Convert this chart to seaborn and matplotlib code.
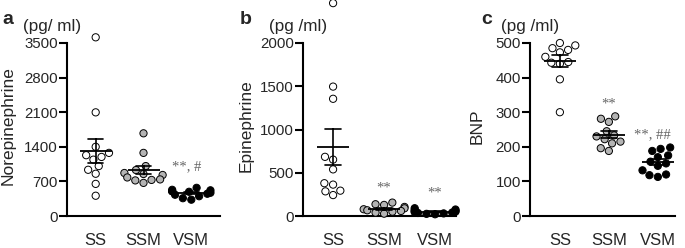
import pandas as pd
import matplotlib
matplotlib.use("Agg")
import matplotlib.pyplot as plt
import seaborn as sns

groups = ["SS", "SSM", "VSM"]

# panel a: norepinephrine (pg/ml)
ne_ss = [3615, 2097, 1400, 1277, 1230, 1195, 1140, 1010, 935, 855, 650, 410]
ne_ssm = [1673, 1277, 1010, 930, 850, 830, 870, 780, 740, 720, 730, 670]
ne_vsm = [570, 530, 520, 500, 490, 470, 450, 430, 400, 360, 330, 500]

# panel b: epinephrine (pg/ml)
epi_ss = [2461, 1496, 1355, 684, 652, 539, 379, 363, 293, 285, 242]
epi_ssm = [155, 136, 128, 105, 89, 78, 66, 58, 50, 39, 27]
epi_vsm = [90, 75, 70, 60, 55, 50, 45, 40, 35, 30, 25, 20]

# panel c: BNP (pg/ml)
bnp_ss = [500, 493, 485, 480, 473, 460, 445, 443, 440, 395, 300]
bnp_ssm = [288, 281, 272, 245, 233, 230, 222, 215, 210, 196, 188]
bnp_vsm = [198, 194, 188, 175, 170, 157, 152, 145, 132, 120, 118, 113]

sns.set_style("white")
plt.rcParams["font.family"] = ["Liberation Sans", "DejaVu Sans"]

colors = {"SS": "white", "SSM": "#b4b4b4", "VSM": "black"}


def make_df(ss, ssm, vsm):
    rows = []
    for g, vals in zip(groups, [ss, ssm, vsm]):
        for v in vals:
            rows.append({"group": g, "value": v})
    return pd.DataFrame(rows)


def draw_panel(ax, df, ylim, yticks, ylabel, unit, xlim, label_x, unit_x):
    sns.swarmplot(data=df, x="group", y="value", hue="group", order=groups,
                  palette=colors, legend=False, size=5.2, edgecolor="black",
                  linewidth=0.7, ax=ax, clip_on=False, zorder=3)
    sns.pointplot(data=df, x="group", y="value", order=groups, errorbar="se",
                  color="black", markers="_", markersize=23,
                  markeredgewidth=1.3, linestyle="none", capsize=0.32,
                  err_kws={"linewidth": 1.2}, ax=ax, zorder=4)
    ax.set_ylim(*ylim)
    ax.set_xlim(*xlim)
    ax.set_yticks(yticks)
    sns.despine(ax=ax)
    for s in ["left", "bottom"]:
        ax.spines[s].set_linewidth(1.5)
        ax.spines[s].set_color("black")
    ax.tick_params(axis="y", length=6, width=1.5, labelsize=10.8, pad=0.5,
                   left=True, color="black")
    ax.tick_params(axis="x", length=0, labelsize=12, pad=12)
    ax.set_xlabel("")
    ax.set_ylabel(ylabel, fontsize=12.5)
    ax.yaxis.set_label_coords(label_x, 0.52)
    ax.text(unit_x, 1.095, unit, transform=ax.transAxes, ha="center",
            va="center", fontsize=12.3)


fig = plt.figure(figsize=(6.85, 2.48), dpi=100)
W, H = 685, 248


def add_axes(left, right, top=43, bottom=216):
    return fig.add_axes([left / W, (H - bottom) / H, (right - left) / W,
                         (bottom - top) / H])


ax_a = add_axes(67, 220)
ax_b = add_axes(303, 456)
ax_c = add_axes(530, 675)

draw_panel(ax_a, make_df(ne_ss, ne_ssm, ne_vsm), (0, 3500),
           [0, 700, 1400, 2100, 2800, 3500], "Norepinephrine", "(pg/ ml)",
           (-0.6, 2.6), -0.335, -0.095)
draw_panel(ax_b, make_df(epi_ss, epi_ssm, epi_vsm), (0, 2000),
           [0, 500, 1000, 1500, 2000], "Epinephrine", "(pg /ml)",
           (-0.59, 2.41), -0.32, -0.03)
draw_panel(ax_c, make_df(bnp_ss, bnp_ssm, bnp_vsm), (0, 500),
           [0, 100, 200, 300, 400, 500], "BNP", "(pg /ml)",
           (-0.61, 2.35), -0.31, 0.0)

ann = dict(ha="center", va="center", fontsize=10.5, color="#666666",
           family=["Liberation Serif", "DejaVu Serif"])
ax_a.text(1.9, 990, "**, #", **ann)
ax_b.text(1, 320, "**", **ann)
ax_b.text(2, 262, "**", **ann)
ax_c.text(1, 325, "**", **ann)
ax_c.text(1.88, 234, "**, ##", **ann)

for txt, x in [("a", 8), ("b", 246), ("c", 487)]:
    fig.text(x / W, 1 - 20 / H, txt, ha="center", va="center",
             fontsize=14, fontweight="bold")

fig.savefig("out.png", dpi=100)
